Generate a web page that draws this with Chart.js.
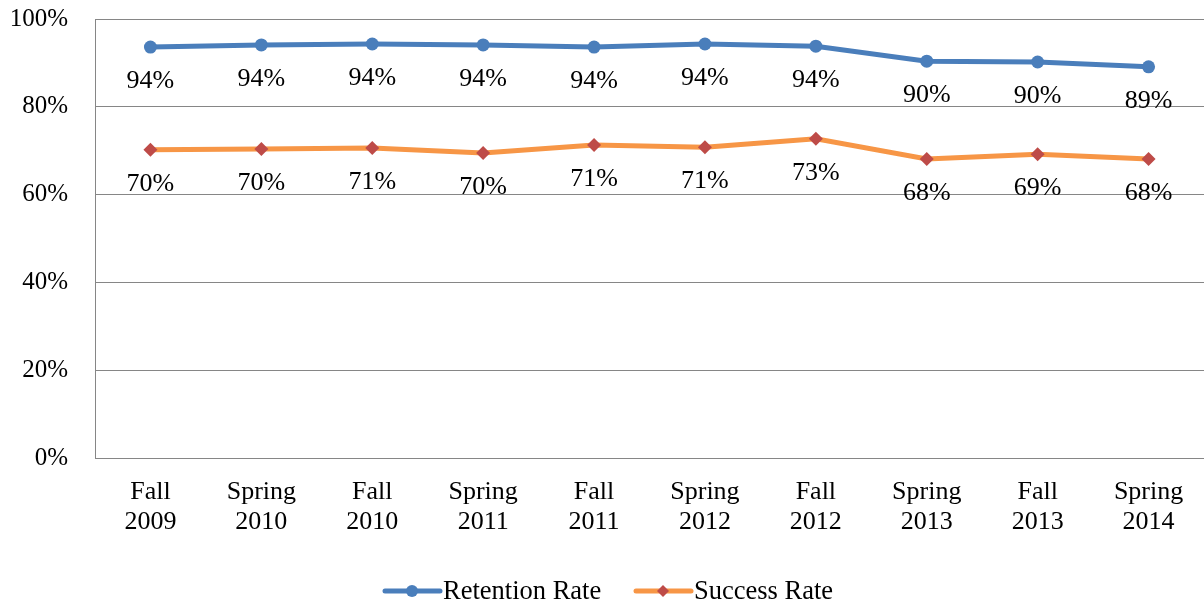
<!DOCTYPE html>
<html lang="en">
<head>
    <meta charset="UTF-8">
    <title>Retention and Success Rates</title>
    <script src="https://cdn.jsdelivr.net/npm/chart.js"></script>
    <style>
        html, body { margin: 0; background: #fff; overflow: hidden; }
        #wrap { width: 1204px; height: 605px; }
        canvas { display: block; }
    </style>
</head>
<body>
    <div id="wrap"><canvas id="rateChart" width="1204" height="605"></canvas></div>
    <script>
        var terms = [['Fall', '2009'], ['Spring', '2010'], ['Fall', '2010'], ['Spring', '2011'], ['Fall', '2011'],
                     ['Spring', '2012'], ['Fall', '2012'], ['Spring', '2013'], ['Fall', '2013'], ['Spring', '2014']];
        var retentionRate = [93.6, 94.1, 94.3, 94.1, 93.6, 94.3, 93.8, 90.4, 90.2, 89.1];
        var successRate = [70.2, 70.4, 70.6, 69.5, 71.3, 70.8, 72.7, 68.1, 69.2, 68.1];
        var yTicks = [0, 20, 40, 60, 80, 100];

        var FONT = '"Liberation Serif", "Times New Roman", serif';

        // labels under each point, like the excel export
        var pointLabels = {
            id: 'pointLabels',
            afterDatasetsDraw: function(chart) {
                var ctx = chart.ctx;
                ctx.save();
                ctx.font = '26px ' + FONT;
                ctx.fillStyle = '#000';
                ctx.textAlign = 'center';
                ctx.textBaseline = 'middle';
                chart.data.datasets.forEach(function(ds, i) {
                    chart.getDatasetMeta(i).data.forEach(function(pt, j) {
                        ctx.fillText(Math.round(ds.data[j]) + '%', pt.x, pt.y + 34);
                    });
                });
                ctx.restore();
            }
        };

        // legend with line + marker
        var lineLegend = {
            id: 'lineLegend',
            afterDraw: function(chart) {
                var ctx = chart.ctx;
                var y = 591;
                var items = [
                    { x: 385, ds: chart.data.datasets[0] },
                    { x: 636, ds: chart.data.datasets[1] }
                ];
                ctx.save();
                items.forEach(function(it) {
                    ctx.strokeStyle = it.ds.borderColor;
                    ctx.lineWidth = 5;
                    ctx.lineCap = 'round';
                    ctx.beginPath();
                    ctx.moveTo(it.x, y);
                    ctx.lineTo(it.x + 55, y);
                    ctx.stroke();
                    ctx.fillStyle = it.ds.pointBackgroundColor;
                    ctx.beginPath();
                    if (it.ds.pointStyle === 'rectRot') {
                        ctx.moveTo(it.x + 27, y - 6);
                        ctx.lineTo(it.x + 33, y);
                        ctx.lineTo(it.x + 27, y + 6);
                        ctx.lineTo(it.x + 21, y);
                        ctx.closePath();
                    } else {
                        ctx.arc(it.x + 27, y, 6, 0, Math.PI * 2);
                    }
                    ctx.fill();
                    ctx.fillStyle = '#000';
                    ctx.font = '26.5px ' + FONT;
                    ctx.textBaseline = 'middle';
                    ctx.textAlign = 'left';
                    ctx.fillText(it.ds.label, it.x + 58, y + 1);
                });
                ctx.restore();
            }
        };

        var ctx = document.getElementById('rateChart').getContext('2d');
        var rateChart = new Chart(ctx, {
            type: 'line',
            data: {
                labels: terms,
                datasets: [{
                    label: 'Retention Rate',
                    data: retentionRate,
                    borderColor: '#4A7EBB',
                    backgroundColor: '#4A7EBB',
                    pointBackgroundColor: '#4A7EBB',
                    pointBorderWidth: 0,
                    pointRadius: 6.5,
                    pointStyle: 'circle',
                    borderWidth: 5,
                    tension: 0
                }, {
                    label: 'Success Rate',
                    data: successRate,
                    borderColor: '#F79646',
                    backgroundColor: '#F79646',
                    pointBackgroundColor: '#BE4B48',
                    pointBorderWidth: 0,
                    pointRadius: 7,
                    pointStyle: 'rectRot',
                    borderWidth: 5,
                    tension: 0
                }]
            },
            options: {
                responsive: false,
                animation: false,
                layout: { autoPadding: false, padding: { top: 19, right: 0, left: 0, bottom: 0 } },
                plugins: {
                    legend: { display: false },
                    tooltip: { enabled: false }
                },
                scales: {
                    x: {
                        offset: true,
                        // invisible tick marks give the label gap without extra layout padding
                        grid: { display: true, drawOnChartArea: false, drawTicks: true, tickLength: 20, tickColor: 'rgba(0,0,0,0)' },
                        border: { color: '#868686', width: 1 },
                        ticks: {
                            color: '#000',
                            font: { family: FONT, size: 26, lineHeight: 1.12 },
                            padding: 0,
                            maxRotation: 0,
                            autoSkip: false
                        },
                        afterFit: function(scale) {
                            scale.height = 147;
                            scale.paddingLeft = 0;
                            scale.paddingRight = 0;
                        }
                    },
                    y: {
                        min: 0,
                        max: 100,
                        afterBuildTicks: function(scale) {
                            scale.ticks = yTicks.map(function(v) { return { value: v }; });
                        },
                        grid: { color: '#868686', lineWidth: 1, drawTicks: true, tickLength: 27, tickColor: 'rgba(0,0,0,0)' },
                        border: { color: '#868686', width: 1 },
                        ticks: {
                            color: '#000',
                            font: { family: FONT, size: 25 },
                            padding: 0,
                            callback: function(v) { return v + '%'; }
                        },
                        afterFit: function(scale) { scale.width = 95; }
                    }
                }
            },
            plugins: [pointLabels, lineLegend]
        });
    </script>
</body>
</html>
